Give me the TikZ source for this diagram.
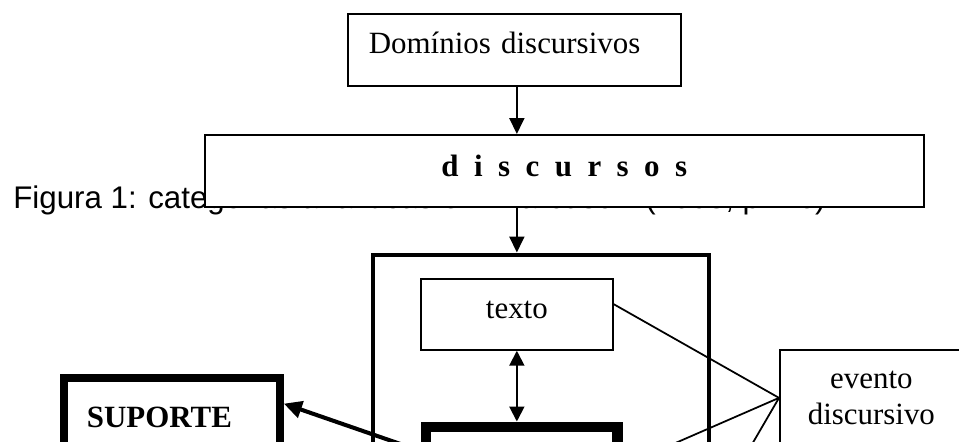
\documentclass[tikz,border=0pt]{standalone}
\usepackage{fontspec}
\setmainfont{Liberation Serif}
\newfontfamily\arialfont{Liberation Sans}
\usetikzlibrary{arrows.meta}

\begin{document}
\begin{tikzpicture}[x=0.02cm, y=-0.02cm,
	box/.style = {draw, anchor=north west, inner sep=0pt, line width=1pt, font=\fontsize{17.6}{20.5}\selectfont},
	arr/.style = {line width=1.1pt, -{Triangle[length=0.32cm, width=0.3cm]}},
	dblarr/.style = {line width=1.1pt, {Triangle[length=0.3cm, width=0.3cm]}-{Triangle[length=0.3cm, width=0.3cm]}},
	boldarr/.style = {line width=2.3pt, -{Triangle[length=0.36cm, width=0.34cm]}}]
	\useasboundingbox (0,0) rectangle (959,442);
	\clip (0,0) rectangle (959,442);
	\node[anchor=base west, inner sep=0pt, font=\arialfont\fontsize{17.8}{20.5}\selectfont] (legenda) at (13,209) {Figura 1: categorias analíticas em Marcuschi (2008, p. 26)};
	\node[box, minimum width=6.66cm, minimum height=1.44cm, inner xsep=0.42cm, text width=5.82cm, align=left, text height=0.42cm, text depth=0.26cm] (dominios) at (347,13) {Domínios discursivos};
	\node[box, fill=white, minimum width=14.38cm, minimum height=1.44cm, text height=0.42cm, text depth=0.18cm, font=\fontsize{17.6}{20.5}\selectfont\bfseries] (discursos) at (204,134) {d~~i~~s~~c~~u~~r~~s~~o~~s};
	\node[box, line width=2.3pt, minimum width=6.73cm, minimum height=6cm] (quadro) at (371,252.5) {};
	\node[box, minimum width=3.84cm, minimum height=1.42cm, text height=0.42cm, text depth=0.24cm] (texto) at (420,278) {texto};
	\node[box, line width=6.2pt, minimum width=3.84cm, minimum height=0.96cm] (genero) at (420.5,421.5) {};
	\node[box, line width=4.5pt, minimum width=4.32cm, minimum height=1.42cm, inner xsep=0.46cm, text width=3.4cm, align=left, text height=0.58cm, text depth=0pt, font=\fontsize{17.6}{20.5}\selectfont\bfseries] (suporte) at (60,374) {SUPORTE};
	\node[box, minimum width=3.66cm, minimum height=1.92cm, align=center, font=\fontsize{17.6}{20.5}\selectfont\vspace*{0.08cm}] (evento) at (779,349) {evento\\discursivo};
	\coordinate (c1) at (613.5,470);
	\coordinate (c2) at (737,470);
	\draw[arr] (dominios.south -| texto.north) -- (discursos.north -| texto.north);
	\draw[arr] (discursos.south -| texto.north) -- (quadro.north -| texto.north);
	\draw[dblarr] (texto.south) -- (texto.south |- genero.north);
	\draw[boldarr] (genero.west) -- (suporte.5);
	\draw[line width=1pt] (texto.6) -- (evento.west);
	\draw[line width=1pt] (c1) -- (evento.west);
	\draw[line width=1pt] (c2) -- (evento.west);
\end{tikzpicture}
\end{document}
